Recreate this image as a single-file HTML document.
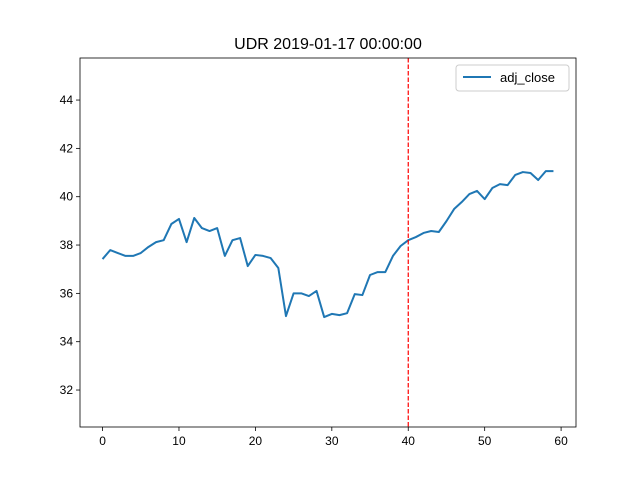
<!DOCTYPE html>
<html><head><meta charset="utf-8"><style>body{margin:0;background:#fff}svg{display:block;font-family:"Liberation Sans","DejaVu Sans",sans-serif}</style></head>
<body>
<svg id="chart" width="640" height="480"></svg>
<script>
const xTicks=[0,10,20,30,40,50,60];
const yTicks=[32,34,36,38,40,42,44];
const adjClose=[37.42,37.79,37.67,37.55,37.55,37.67,37.92,38.12,38.2,38.87,39.08,38.12,39.12,38.70,38.58,38.70,37.55,38.2,38.29,37.13,37.59,37.55,37.46,37.05,35.06,36.0,36.0,35.89,36.1,35.02,35.15,35.1,35.18,35.97,35.93,36.76,36.88,36.88,37.55,37.96,38.2,38.33,38.5,38.58,38.54,38.99,39.49,39.78,40.11,40.24,39.9,40.36,40.52,40.48,40.9,41.02,40.98,40.69,41.06,41.06];
const eventX=40;
const L=80,R=576,T=58,B=427;
const xMin=-2.95,xMax=61.95,yMin=30.47,yMax=45.74;
const sx=v=>L+(v-xMin)/(xMax-xMin)*(R-L);
const sy=v=>B-(v-yMin)/(yMax-yMin)*(B-T);
const svg=document.getElementById('chart');
const NS='http://www.w3.org/2000/svg';
function mk(t,a){const e=document.createElementNS(NS,t);for(const k in a)e.setAttribute(k,a[k]);svg.appendChild(e);return e;}
let t=mk('text',{x:328,y:49,'text-anchor':'middle','font-size':16});t.textContent='UDR 2019-01-17 00:00:00';


xTicks.forEach(v=>{const x=sx(v);
const l=mk('line',{x1:x,x2:x,y1:B,y2:B+4,stroke:'#000','stroke-width':0.8});


const tx=mk('text',{x:x,y:B+18,'text-anchor':'middle','font-size':12});tx.textContent=v;

});
yTicks.forEach(v=>{const y=sy(v);
const l=mk('line',{x1:L-4,x2:L,y1:y,y2:y,stroke:'#000','stroke-width':0.8});


const tx=mk('text',{x:L-7,y:y+4,'text-anchor':'end','font-size':12});tx.textContent=v;

});
const pl=mk('polyline',{points:adjClose.map((v,i)=>sx(i)+','+sy(v)).join(' '),fill:'none',stroke:'#1f77b4','stroke-width':2,'stroke-linejoin':'round'});


const vl=mk('line',{x1:sx(eventX),x2:sx(eventX),y1:T,y2:B,stroke:'red','stroke-width':1.2,'stroke-dasharray':'4.5,2'});


const fr=mk('rect',{x:L,y:T,width:R-L,height:B-T,fill:'none',stroke:'#000','stroke-width':0.8});


const lg=mk('rect',{x:456,y:65,width:113,height:26,rx:3,fill:'#fff',stroke:'#ccc','stroke-width':1});


const ll=mk('line',{x1:463,x2:491,y1:77,y2:77,stroke:'#1f77b4','stroke-width':2});


const lt=mk('text',{x:500,y:82,'font-size':13});lt.textContent='adj_close';


</script>
</body></html>
